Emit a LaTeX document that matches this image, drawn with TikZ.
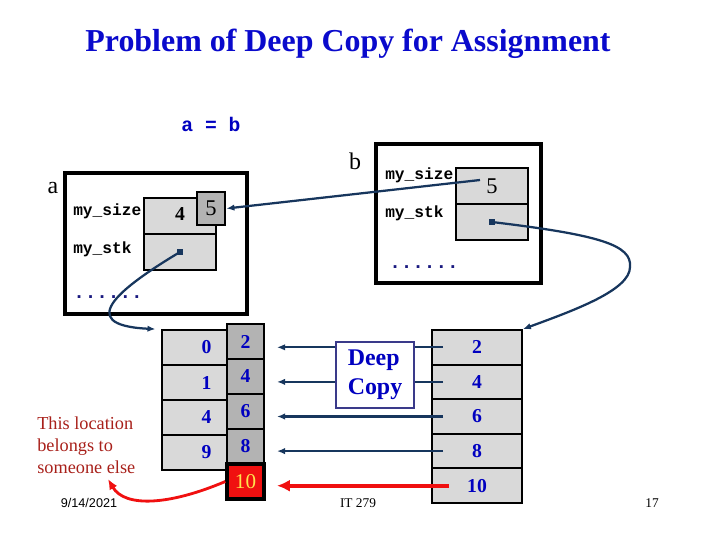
\documentclass[tikz,border=0pt]{standalone}
\usepackage{fontspec}
\setmainfont{Liberation Serif}
\setsansfont{Liberation Sans}
\setmonofont{Liberation Mono}
\usepackage{xcolor}
\definecolor{navy}{HTML}{17365D}
\definecolor{titleblue}{HTML}{0A0ACC}
\definecolor{numblue}{HTML}{0000C0}
\definecolor{dotblue}{HTML}{1A1A80}
\definecolor{cellgray}{HTML}{D9D9D9}
\definecolor{darkgray}{HTML}{B3B3B3}
\definecolor{hotred}{HTML}{F01010}
\definecolor{brick}{HTML}{A8201A}
\definecolor{gold}{HTML}{FFE34D}
\definecolor{boxline}{HTML}{3A3A8A}
\usetikzlibrary{arrows.meta,positioning}
\tikzset{
  >={Latex[length=2mm,width=1.6mm]},
  objbox/.style ={draw=black,line width=2.6pt,inner sep=0pt},
  cell/.style   ={draw=black,line width=1.3pt,fill=cellgray,inner sep=0pt},
  dcell/.style  ={cell,fill=darkgray},
  num/.style    ={font=\fontsize{14}{16}\selectfont\bfseries,text=numblue},
  fld/.style    ={font=\fontsize{11.5}{13}\selectfont\ttfamily\bfseries,
                  anchor=west,inner sep=0pt},
  dots/.style   ={font=\fontsize{13.7}{15}\selectfont\ttfamily\bfseries,
                  text=dotblue,anchor=west,inner sep=0pt},
  varname/.style={font=\fontsize{17}{19}\selectfont},
  ptr/.style    ={fill=navy,minimum size=4.5pt,inner sep=0pt},
  link/.style   ={->,draw=navy,line width=1.6pt},
  copyln/.style ={->,draw=navy,line width=1.5pt},
  bad/.style    ={-{Latex[length=3.2mm,width=3mm]},draw=hotred,line width=3pt},
  badcurve/.style={-{Latex[length=2.6mm,width=2.2mm]},draw=hotred,line width=2pt},
  foot/.style   ={font=\fontsize{9.5}{11}\selectfont},
}

\begin{document}
\begin{tikzpicture}[x=0.025cm,y=-0.025cm]
\useasboundingbox (0,0) rectangle (720,540);
% title
\node[font=\fontsize{22.7}{26}\selectfont\bfseries,text=titleblue] (title) at (348,44)
  {Problem of Deep Copy for Assignment};
\node[font=\fontsize{14}{16}\selectfont\ttfamily\bfseries,text=numblue] (assign) at (211,124) {a = b};
% object a
\node[objbox,minimum width=4.55cm,minimum height=3.525cm] (obja) at (156,243.5) {};
\node[varname] (namea) at (53,188) {a};
\node[fld] (sizea) at (73,211) {my\_size};
\node[fld] (stka) at (73,249) {my\_stk};
\node[cell,minimum width=1.8cm,minimum height=0.9cm] (asize) at (180,216) {};
\node[cell,minimum width=1.8cm,minimum height=0.9cm] (astk) at (180,252) {};
\node[font=\fontsize{14}{16}\selectfont\bfseries] (four) at (180,214) {4};
\node[dcell,line width=2pt,minimum width=0.7cm,minimum height=0.825cm,
      font=\fontsize{16}{18}\selectfont] (five) at (211,208.5) {5};
\node[ptr] (pa) at (astk.center) {};
\node[dots] (dotsa) at (73,297) {......};
% object b
\node[objbox,minimum width=4.125cm,minimum height=3.475cm] (objb) at (458.5,213.5) {};
\node[varname] (nameb) at (355,161) {b};
\node[fld] (sizeb) at (385,175) {my\_size};
\node[fld] (stkb) at (385,213) {my\_stk};
\node[cell,minimum width=1.8cm,minimum height=0.9cm,font=\fontsize{16}{18}\selectfont] (bsize) at (492,186) {5};
\node[cell,minimum width=1.8cm,minimum height=0.9cm] (bstk) at (492,222) {};
\node[ptr] (pb) at (bstk.center) {};
\node[dots] (dotsb) at (389,267) {......};
% array of a
\foreach \v [count=\i] in {0,1,4,9}
  {\node[cell,minimum width=1.625cm,minimum height=0.875cm] (l\i) at (194.5,312.5+35*\i) {};
   \node[num] at ([xshift=0.3cm]l\i.center) {\v};}
\foreach \v [count=\i] in {2,4,6,8}
  {\node[dcell,num,minimum width=0.925cm,minimum height=0.875cm] (r\i) at (245.5,306.5+35*\i) {\v};}
\node[cell,fill=hotred,line width=2.4pt,minimum width=0.925cm,minimum height=0.875cm,
      text=gold,font=\fontsize{15}{17}\selectfont] (r5) at (245.5,481.5) {10};
% array of b
\foreach \v [count=\i] in {2,4,6,8,10}
  {\node[cell,num,minimum width=2.25cm,minimum height=0.865cm] (b\i) at (477,312.7+34.6*\i) {\v};}
% copy arrows
\coordinate (tipx) at (277,0);
\foreach \i in {1,...,4}
  {\draw[copyln] ([xshift=0.3cm]b\i.west) -- (b\i.west -| tipx);}
\draw[bad] ([xshift=0.45cm]b5.west) -- (b5.west -| tipx);
\node[draw=boxline,line width=1.2pt,fill=white,minimum width=1.95cm,minimum height=1.65cm,
      align=left,text=numblue,font=\fontsize{17}{20.6}\selectfont\bfseries] (deep) at (375,375) {Deep\\Copy};
% pointers
\draw[link] ([shift={(-12,-6)}]bsize.center) -- (five.east);
\draw[link] (pa.center) .. controls (125,285) and (70,325) .. ([xshift=-4pt]l1.north west);
\draw[link] (pb.center) .. controls (600,235) and (632,245) .. (630,267)
  .. controls (630,290) and (575,310) .. (b1.north east);
% note
\node[anchor=north west,align=left,inner sep=0pt,text=brick,
      font=\fontsize{13}{15.3}\selectfont] (note) at (37,417) {This location\\belongs to\\someone else};
\coordinate (notept) at (108,479);
\draw[badcurve] (r5.west) .. controls (170,505) and (125,508) .. (notept);
% footer
\node[foot,font=\sffamily\fontsize{9}{11}\selectfont] (date) at (89,503) {9/14/2021};
\node[foot] (course) at (358,503) {IT 279};
\node[foot] (page) at (652,503) {17};
\end{tikzpicture}
\end{document}
